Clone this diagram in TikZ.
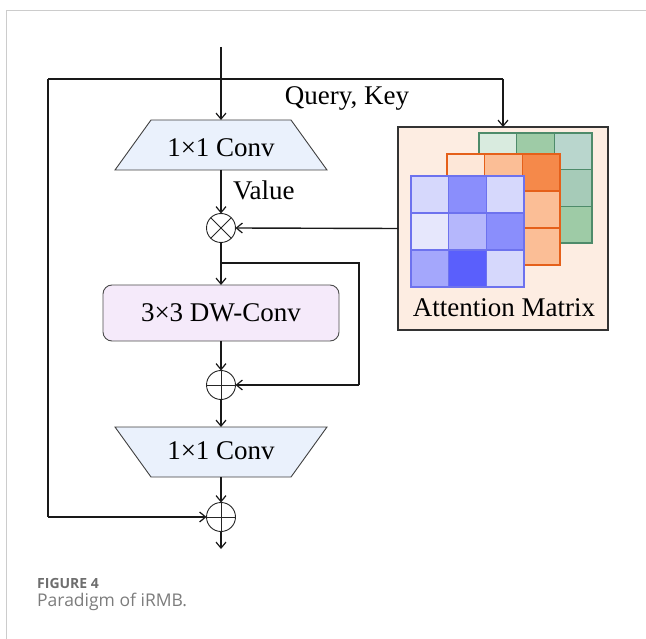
\documentclass[tikz,border=0pt]{standalone}
\usepackage{fontspec}
\setmainfont{Liberation Serif}
\newfontfamily\capfont{Open Sans}
\usetikzlibrary{arrows.meta}
\definecolor{convfill}{HTML}{EAF1FC}
\definecolor{dwfill}{HTML}{F5EAFA}
\definecolor{attfill}{HTML}{FDEDE2}
\definecolor{framegray}{HTML}{CCCCCC}
\definecolor{capgray}{HTML}{6E6E6E}
\definecolor{grB}{HTML}{4E8B6A}
\definecolor{orB}{HTML}{E5601A}
\definecolor{blB}{HTML}{6D72EE}
\tikzset{
  txt/.style={font=\fontsize{27}{32}\selectfont, text=black},
  conn/.style={line width=1.4pt, draw=black!90},
  arr/.style={conn, -{Straight Barb[length=6pt,width=10pt,line width=1.2pt]}},
  convframe/.style={rectangle, minimum width=212, minimum height=50, inner sep=0pt, outer sep=0pt},
  convdraw/.style={draw=black!75, line width=0.9pt, fill=convfill},
  dwbox/.style={rectangle, rounded corners=9pt, minimum width=236, minimum height=56,
     draw=black!70, line width=0.9pt, fill=dwfill, txt, outer sep=0pt},
  opcirc/.style={circle, minimum size=29, inner sep=0pt, draw=black!85, line width=0.9pt, outer sep=0pt},
  attbox/.style={rectangle, minimum width=210, minimum height=203, draw=black!80,
     line width=1.3pt, fill=attfill, outer sep=0pt},
  cell/.style={line width=1.1pt}
}
\begin{document}
\begin{tikzpicture}[x=1pt,y=-1pt]
\useasboundingbox (0,0) rectangle (646,639);
% frame
\draw[framegray, line width=1pt] (6,639) -- (6,11) -- (646,11);

% attention box
\node[attbox] (att) at (503,228.5) {};
% green grid
\def\gx{479}\def\gy{133}\def\cw{37.67}\def\ch{36.67}
\foreach \r/\c/\col in {0/0/D9EBDF,0/1/9ECBA6,0/2/B9D6CD,1/0/A6CBB8,1/1/9ECBA6,1/2/A6CBB8,2/0/9ECBA6,2/1/A6CBB8,2/2/9ECBA6}{
  \definecolor{tmpc}{HTML}{\col}
  \filldraw[cell, fill=tmpc, draw=grB] (\gx+\c*\cw,\gy+\r*\ch) rectangle ++(\cw,\ch);
}
% orange grid
\def\ox{447}\def\oy{154}\def\och{37}
\foreach \r/\c/\col in {0/0/FDE7D8,0/1/FBBE96,0/2/F5894A,1/0/FBBE96,1/1/FBBE96,1/2/FBBE96,2/0/FBBE96,2/1/FBBE96,2/2/FBBE96}{
  \definecolor{tmpc}{HTML}{\col}
  \filldraw[cell, fill=tmpc, draw=orB] (\ox+\c*\cw,\oy+\r*\och) rectangle ++(\cw,\och);
}
% blue grid
\def\bx{411}\def\by{176}
\foreach \r/\c/\col in {0/0/D6D8FC,0/1/8A8EFC,0/2/D6D8FC,1/0/E6E7FC,1/1/B5B7FC,1/2/8A8EFC,2/0/A4A7FC,2/1/5A5FFC,2/2/D6D8FC}{
  \definecolor{tmpc}{HTML}{\col}
  \filldraw[cell, fill=tmpc, draw=blB] (\bx+\c*\cw,\by+\r*\och) rectangle ++(\cw,\och);
}
\node[txt, anchor=base] (attlbl) at (504,317) {Attention Matrix};

% main column
\coordinate (in) at (221,47);
\coordinate (lc) at (48,79);
\coordinate (lb) at (48,517);
\coordinate (rc) at (503,79);
\coordinate (br) at (221,263);
\coordinate (brr) at (359,263);
\coordinate (brb) at (359,385);
\coordinate (out) at (221,549);

% top 1x1 conv (narrow top)
\node[convframe] (conv1) at (221,145) {};
\filldraw[convdraw] (conv1.south west) -- (conv1.south east) -- ([xshift=-36pt]conv1.north east) -- ([xshift=36pt]conv1.north west) -- cycle;
\node[txt, anchor=base, inner sep=0pt] (conv1lbl) at (221,157) {1×1 Conv};

\node[opcirc] (mult) at (221,228) {};
\draw[line width=0.9pt, black!85] (mult.north east) -- (mult.south west) (mult.north west) -- (mult.south east);
\node[dwbox] (dw) at (221,313) {3×3 DW-Conv};
\node[opcirc] (add1) at (221,385) {};
\draw[line width=0.9pt, black!85] (add1.north) -- (add1.south) (add1.west) -- (add1.east);

% bottom 1x1 conv (narrow bottom)
\node[convframe] (conv2) at (221,452) {};
\filldraw[convdraw] (conv2.north west) -- (conv2.north east) -- ([xshift=-36pt]conv2.south east) -- ([xshift=36pt]conv2.south west) -- cycle;
\node[txt, anchor=base, inner sep=0pt] (conv2lbl) at (221,459) {1×1 Conv};

\node[opcirc] (add2) at (221,517) {};
\draw[line width=0.9pt, black!85] (add2.north) -- (add2.south) (add2.west) -- (add2.east);

% connectors
\draw[arr] (in) -- (conv1.north);
\draw[conn] (lc) -- (rc);
\draw[arr] (rc) -- (att.north);
\draw[arr] (conv1.south) -- (mult.north);
\draw[arr] (att.west) -- (mult.east);
\draw[arr] (mult.south) -- (dw.north);
\draw[conn] (br) -- (brr) -- (brb);
\draw[arr] (brb) -- (add1.east);
\draw[arr] (dw.south) -- (add1.north);
\draw[arr] (add1.south) -- (conv2.north);
\draw[arr] (conv2.south) -- (add2.north);
\draw[conn] (lc) -- (lb);
\draw[arr] (lb) -- (add2.west);
\draw[arr] (add2.south) -- (out);

% labels
\node[txt, anchor=base] (qk) at (347,105) {Query, Key};
\node[txt, anchor=base west, inner sep=0pt] (val) at (233,200) {Value};

% caption
\node[anchor=base west, inner sep=0pt, font=\capfont\bfseries\fontsize{14}{16}\selectfont, text=capgray] (fig) at (37,588) {FIGURE 4};
\node[anchor=base west, inner sep=0pt, font=\capfont\fontsize{17.5}{20}\selectfont, text=capgray!90] (cap) at (37,606) {Paradigm of iRMB.};
\end{tikzpicture}
\end{document}
